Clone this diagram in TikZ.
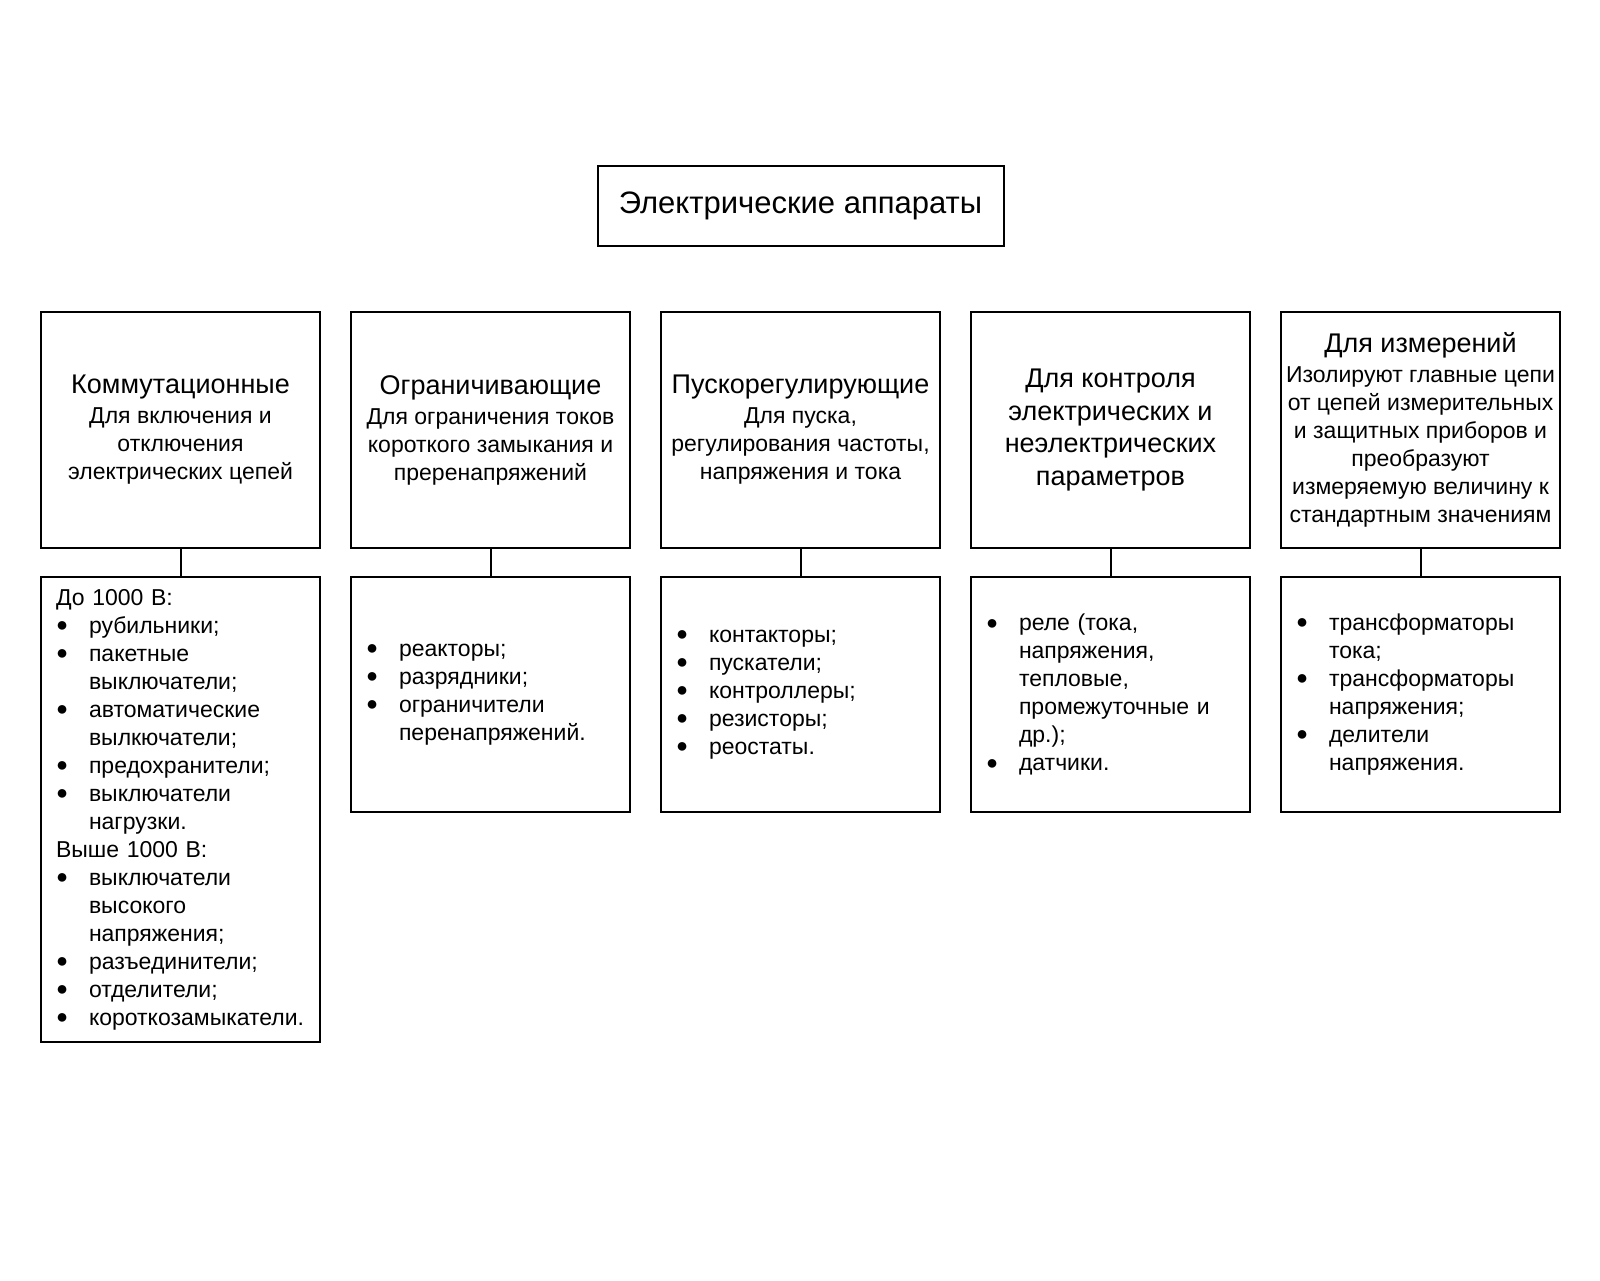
\documentclass[tikz,border=0pt]{standalone}
\usepackage{fontspec}
\setmainfont{Liberation Sans}
\usepackage{tikz}
\usetikzlibrary{positioning}

\newcommand{\hdfont}{\fontsize{27}{32.5}\selectfont}
\newcommand{\bul}{\raisebox{1.5pt}{\fontsize{20}{20}\selectfont ●}}
\newcommand{\itm}[1]{\mbox{\makebox[33pt][l]{\bul}#1}}
\newcommand{\cnt}[1]{\mbox{\hspace{33pt}#1}}

\begin{document}
\begin{tikzpicture}[
    x=1pt, y=-1pt,
    font=\fontsize{23}{28}\selectfont,
    node distance=31pt,
    titlebox/.style={
        rectangle,
        draw=black,
        line width=2pt,
        outer sep=0pt,
        minimum width=406pt,
        minimum height=80pt,
        font=\fontsize{31}{36}\selectfont
    },
    catbox/.style={
        rectangle,
        draw=black,
        line width=2pt,
        outer sep=0pt,
        align=center,
        minimum width=279pt,
        minimum height=236pt,
        inner sep=0pt
    },
    listbox/.style={
        rectangle,
        draw=black,
        line width=2pt,
        outer sep=0pt,
        align=left,
        text width=249pt,
        minimum height=235pt,
        inner xsep=15pt,
        inner ysep=0pt
    },
    link/.style={line width=2pt}
]
\useasboundingbox (0,0) rectangle (1600,1280);

% Nodes
\node (cat1) [catbox, anchor=north west] at (41,312)
{{\hdfont Коммутационные}\\[2pt]
Для включения и\\
отключения\\
электрических цепей};

\node (cat2) [catbox, right=of cat1]
{{\hdfont Ограничивающие}\\[2pt]
Для ограничения токов\\
короткого замыкания и\\
преренапряжений};

\node (cat3) [catbox, right=of cat2]
{{\hdfont Пускорегулирующие}\\[2pt]
Для пуска,\\
регулирования частоты,\\
напряжения и тока};

\node (cat4) [catbox, right=of cat3, font=\hdfont]
{Для контроля\\
электрических и\\
неэлектрических\\
параметров};

\node (cat5) [catbox, right=of cat4]
{{\hdfont Для измерений}\\[2pt]
Изолируют главные цепи\\
от цепей измерительных\\
и защитных приборов и\\
преобразуют\\
измеряемую величину к\\
стандартным значениям};

\node (top) [titlebox, above=66pt of cat3] {Электрические аппараты};

\node (det1) [listbox, below=29pt of cat1, minimum height=465pt]
{До 1000 В:\\
\itm{рубильники;}\\
\itm{пакетные}\\
\cnt{выключатели;}\\
\itm{автоматические}\\
\cnt{вылкючатели;}\\
\itm{предохранители;}\\
\itm{выключатели}\\
\cnt{нагрузки.}\\
Выше 1000 В:\\
\itm{выключатели}\\
\cnt{высокого}\\
\cnt{напряжения;}\\
\itm{разъединители;}\\
\itm{отделители;}\\
\itm{короткозамыкатели.}};

\node (det2) [listbox, below=29pt of cat2]
{\itm{реакторы;}\\
\itm{разрядники;}\\
\itm{ограничители}\\
\cnt{перенапряжений.}};

\node (det3) [listbox, below=29pt of cat3]
{\itm{контакторы;}\\
\itm{пускатели;}\\
\itm{контроллеры;}\\
\itm{резисторы;}\\
\itm{реостаты.}};

\node (det4) [listbox, below=29pt of cat4]
{\itm{реле (тока,}\\
\cnt{напряжения,}\\
\cnt{тепловые,}\\
\cnt{промежуточные и}\\
\cnt{др.);}\\
\itm{датчики.}};

\node (det5) [listbox, below=29pt of cat5]
{\itm{трансформаторы}\\
\cnt{тока;}\\
\itm{трансформаторы}\\
\cnt{напряжения;}\\
\itm{делители}\\
\cnt{напряжения.}};

% Links
\foreach \i in {1,...,5}
    \draw [link] (cat\i) -- (det\i);

\end{tikzpicture}
\end{document}
